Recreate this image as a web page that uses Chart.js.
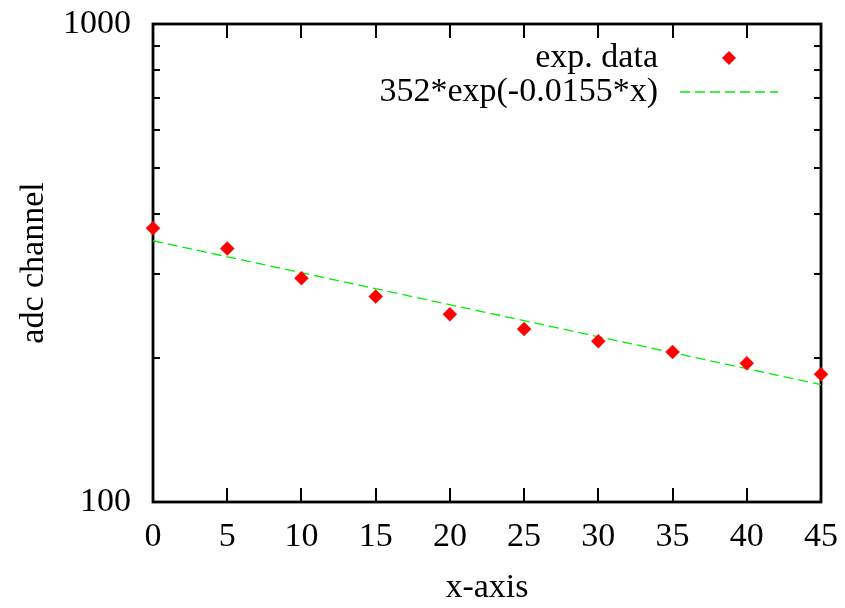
<!DOCTYPE html>
<html>
<head>
<meta charset="utf-8">
<script src="https://cdn.jsdelivr.net/npm/chart.js@4/dist/chart.umd.min.js"></script>
<style>
  html, body { margin: 0; padding: 0; background: #fff; }
  #wrap { width: 845px; height: 608px; }
</style>
</head>
<body>
<div id="wrap"><canvas id="myChart"></canvas></div>
<script>
// values
const xValues = [0, 5, 10, 15, 20, 25, 30, 35, 40, 45];
const adcValues = [374, 339, 294, 269, 247, 230, 217, 206, 195, 185];
const fitX = [0, 45];
const fitValues = [352, 176];
const xTicks = [0, 5, 10, 15, 20, 25, 30, 35, 40, 45];
const yTicks = [100, 200, 300, 400, 500, 600, 700, 800, 900, 1000];
const yLabels = [100, 1000];

const serif = 'Liberation Serif, Times New Roman, serif';

// gnuplot style frame, inward ticks and key
const gnuplotLook = {
    id: 'gnuplotLook',
    beforeDatasetsDraw(chart) {
        const { ctx, chartArea: a } = chart;
        const xs = chart.scales.x, ys = chart.scales.y;
        ctx.save();
        ctx.strokeStyle = '#000';
        ctx.lineWidth = 2;
        ctx.beginPath();
        xs.ticks.forEach(t => {
            const px = Math.round(xs.getPixelForValue(t.value));
            ctx.moveTo(px, a.bottom); ctx.lineTo(px, a.bottom - 14);
            ctx.moveTo(px, a.top); ctx.lineTo(px, a.top + 14);
        });
        ys.ticks.forEach(t => {
            const py = Math.round(ys.getPixelForValue(t.value));
            const len = yLabels.includes(t.value) ? 14 : 7;
            ctx.moveTo(a.left, py); ctx.lineTo(a.left + len, py);
            ctx.moveTo(a.right, py); ctx.lineTo(a.right - len, py);
        });
        ctx.stroke();
        ctx.lineWidth = 2.8;
        ctx.strokeRect(a.left, a.top, a.right - a.left, a.bottom - a.top);
        ctx.restore();
    },
    afterDraw(chart) {
        const { ctx } = chart;
        const ds = chart.data.datasets;
        ctx.save();
        ctx.font = '34px ' + serif;
        ctx.fillStyle = '#000';
        ctx.textAlign = 'right';
        ctx.textBaseline = 'middle';
        // exp. data
        ctx.fillText(ds[0].label, 658, 58);
        ctx.fillStyle = ds[0].backgroundColor;
        ctx.beginPath();
        ctx.moveTo(722, 58); ctx.lineTo(729, 51); ctx.lineTo(736, 58); ctx.lineTo(729, 65);
        ctx.closePath();
        ctx.fill();
        // fit
        ctx.fillStyle = '#000';
        ctx.fillText(ds[1].label, 658, 92);
        ctx.strokeStyle = ds[1].borderColor;
        ctx.lineWidth = ds[1].borderWidth;
        ctx.setLineDash(ds[1].borderDash);
        ctx.beginPath();
        ctx.moveTo(680, 92); ctx.lineTo(778, 92);
        ctx.stroke();
        ctx.restore();
    }
};

const ctx = document.getElementById('myChart');
new Chart(ctx, {
    type: 'scatter',
    data: {
        datasets: [{
            label: 'exp. data',
            data: xValues.map((x, i) => ({ x: x, y: adcValues[i] })),
            backgroundColor: '#ff0000',
            borderColor: '#ff0000',
            borderWidth: 0.5,
            pointStyle: 'rectRot',
            pointRadius: 7,
            showLine: false,
            clip: false,
            order: 0
        }, {
            label: '352*exp(-0.0155*x)',
            data: fitX.map((x, i) => ({ x: x, y: fitValues[i] })),
            borderColor: '#00ee00',
            borderWidth: 1.3,
            borderDash: [10, 5],
            pointRadius: 0,
            showLine: true,
            fill: false,
            clip: false,
            order: 1
        }]
    },
    options: {
        responsive: true,
        maintainAspectRatio: false,
        animation: false,
        events: [],
        layout: { padding: { top: 24, right: 24, left: 0, bottom: 0 } },
        plugins: {
            legend: { display: false },
            tooltip: { enabled: false }
        },
        scales: {
            x: {
                type: 'linear',
                min: 0,
                max: 45,
                afterBuildTicks: s => { s.ticks = xTicks.map(v => ({ value: v })); },
                afterFit: s => { s.height = 106; s.paddingLeft = 0; s.paddingRight = 0; },
                grid: { display: false, drawTicks: false },
                border: { display: false },
                ticks: {
                    padding: 15,
                    color: '#000',
                    font: { family: serif, size: 34 },
                    maxRotation: 0
                },
                title: {
                    display: true,
                    text: 'x-axis',
                    color: '#000',
                    font: { family: serif, size: 34 },
                    padding: { top: 0, bottom: 0 }
                }
            },
            y: {
                type: 'logarithmic',
                min: 100,
                max: 1000,
                afterBuildTicks: s => { s.ticks = yTicks.map(v => ({ value: v, major: yLabels.includes(v) })); },
                afterFit: s => { s.width = 153; s.paddingTop = 0; s.paddingBottom = 0; },
                grid: { display: false, drawTicks: false },
                border: { display: false },
                ticks: {
                    padding: 22,
                    autoSkip: false,
                    color: '#000',
                    font: { family: serif, size: 34 },
                    callback: v => yLabels.includes(v) ? String(v) : ''
                },
                title: {
                    display: true,
                    text: 'adc channel',
                    color: '#000',
                    font: { family: serif, size: 34 },
                    padding: { top: 14, bottom: 0 }
                }
            }
        }
    },
    plugins: [gnuplotLook]
});
</script>
</body>
</html>
